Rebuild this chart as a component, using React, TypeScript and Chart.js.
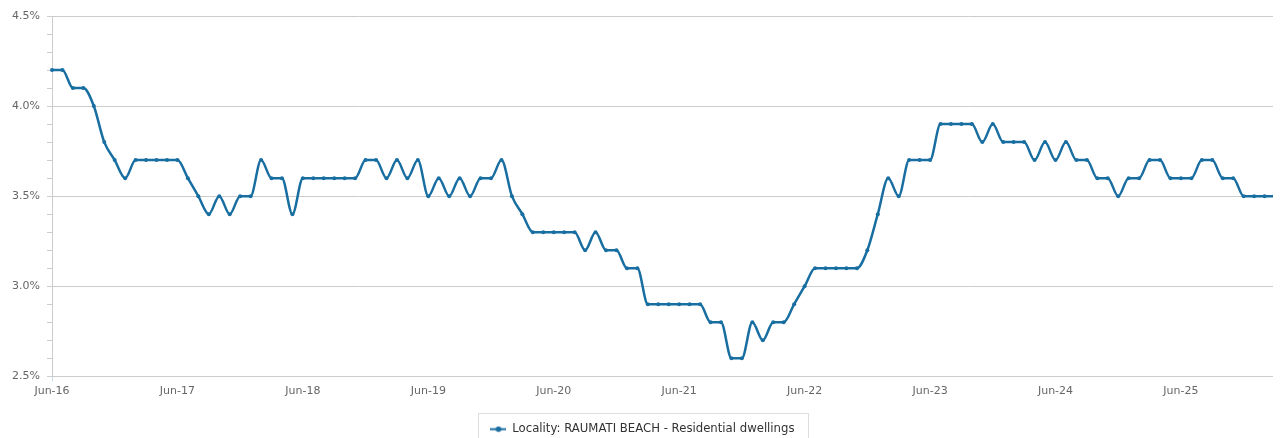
import { useEffect, useRef } from 'react';
import { Chart, registerables } from 'chart.js';

Chart.register(...registerables);

const SERIES_LABEL = 'Locality: RAUMATI BEACH - Residential dwellings';
const START_YEAR = 2016;
const START_MONTH = 5; // June (0-based)
const MONTH_NAMES = ['Jan', 'Feb', 'Mar', 'Apr', 'May', 'Jun', 'Jul', 'Aug', 'Sep', 'Oct', 'Nov', 'Dec'];

// Monthly values (%), Jun-16 .. Mar-26
const values = [
  4.2, 4.2, 4.1, 4.1, 4.0, 3.8, 3.7, 3.6, 3.7, 3.7,
  3.7, 3.7, 3.7, 3.6, 3.5, 3.4, 3.5, 3.4, 3.5, 3.5,
  3.7, 3.6, 3.6, 3.4, 3.6, 3.6, 3.6, 3.6, 3.6, 3.6,
  3.7, 3.7, 3.6, 3.7, 3.6, 3.7, 3.5, 3.6, 3.5, 3.6,
  3.5, 3.6, 3.6, 3.7, 3.5, 3.4, 3.3, 3.3, 3.3, 3.3,
  3.3, 3.2, 3.3, 3.2, 3.2, 3.1, 3.1, 2.9, 2.9, 2.9,
  2.9, 2.9, 2.9, 2.8, 2.8, 2.6, 2.6, 2.8, 2.7, 2.8,
  2.8, 2.9, 3.0, 3.1, 3.1, 3.1, 3.1, 3.1, 3.2, 3.4,
  3.6, 3.5, 3.7, 3.7, 3.7, 3.9, 3.9, 3.9, 3.9, 3.8,
  3.9, 3.8, 3.8, 3.8, 3.7, 3.8, 3.7, 3.8, 3.7, 3.7,
  3.6, 3.6, 3.5, 3.6, 3.6, 3.7, 3.7, 3.6, 3.6, 3.6,
  3.7, 3.7, 3.6, 3.6, 3.5, 3.5, 3.5, 3.5,
];

const categories = values.map((_, i) => {
  const m = START_MONTH + i;
  const y = START_YEAR + Math.floor(m / 12);
  return `${MONTH_NAMES[m % 12]}-${String(y % 100).padStart(2, '0')}`;
});

const Y_MIN = 2.5;
const Y_MAX = 4.5;
const Y_STEP = 0.1;
const Y_LABEL_STEP = 0.5;
const X_LABEL_EVERY = 12;

const LINE_COLOR = '#186ea0';
const FONT_FAMILY = '"DejaVu Sans", sans-serif';

const CANVAS_W = 1269;
const CANVAS_H = 440;

const isMajor = (v: number) => {
  const r = v / Y_LABEL_STEP;
  return Math.abs(r - Math.round(r)) < 1e-6;
};

const legendBorderPlugin = {
  id: 'legendBorder',
  afterDraw(chart: any) {
    const lg = chart.legend;
    if (!lg || !lg.legendHitBoxes || !lg.legendHitBoxes.length) return;
    const hb = lg.legendHitBoxes[0];
    const ctx = chart.ctx;
    const cy = hb.top + hb.height / 2;
    const x0 = Math.round(hb.left - 12) + 0.5;
    const x1 = Math.round(hb.left + hb.width + 13) + 0.5;
    const y0 = Math.round(cy - 16) + 0.5;
    const y1 = Math.round(cy + 18) + 0.5;
    ctx.save();
    ctx.strokeStyle = '#dddddd';
    ctx.lineWidth = 1;
    ctx.strokeRect(x0, y0, x1 - x0, y1 - y0);
    ctx.restore();
  },
};

export default function App() {
  const canvasRef = useRef<HTMLCanvasElement | null>(null);

  useEffect(() => {
    const canvas = canvasRef.current;
    if (!canvas) return;

    const icon = document.createElement('canvas');
    icon.width = 16;
    icon.height = 7;
    const ic = icon.getContext('2d');
    if (ic) {
      ic.strokeStyle = LINE_COLOR;
      ic.lineWidth = 2;
      ic.beginPath();
      ic.moveTo(0, 3.5);
      ic.lineTo(16, 3.5);
      ic.stroke();
      ic.fillStyle = LINE_COLOR;
      ic.beginPath();
      ic.arc(8, 3.5, 2.8, 0, Math.PI * 2);
      ic.fill();
    }

    const font = { family: FONT_FAMILY, size: 11 };
    const legendFont = { family: FONT_FAMILY, size: 11.7 };

    const chart = new Chart(canvas, {
      type: 'line',
      data: {
        labels: categories,
        datasets: [
          {
            label: SERIES_LABEL,
            data: values,
            borderColor: LINE_COLOR,
            backgroundColor: LINE_COLOR,
            borderWidth: 2.5,
            pointRadius: 2,
            pointHoverRadius: 2,
            pointBackgroundColor: LINE_COLOR,
            pointBorderWidth: 0,
            cubicInterpolationMode: 'monotone',
            tension: 0.4,
            fill: false,
            clip: false as any,
          },
        ],
      },
      options: {
        responsive: false,
        animation: false,
        events: [],
        layout: { padding: { top: 8, left: 0, right: 0, bottom: 3 } },
        scales: {
          x: {
            type: 'category',
            offset: false,
            grid: {
              drawOnChartArea: false,
              drawTicks: true,
              tickLength: 5,
              color: 'transparent',
              tickColor: (ctx: any) => (ctx.index % X_LABEL_EVERY === 0 ? '#ccd6eb' : 'transparent'),
            },
            border: { display: true, color: '#cccccc' },
            ticks: {
              autoSkip: false,
              maxRotation: 0,
              minRotation: 0,
              padding: 3,
              color: '#666666',
              font,
              callback: (_v: any, i: number) => (i % X_LABEL_EVERY === 0 ? categories[i] : null),
            },
            afterFit: (s: any) => {
              s.height = 28;
              s.paddingLeft = 0;
              s.paddingRight = 0;
            },
          },
          y: {
            min: Y_MIN,
            max: Y_MAX,
            ticks: {
              stepSize: Y_STEP,
              autoSkip: false,
              padding: 7,
              color: '#666666',
              font,
              callback: (v: any) => (isMajor(Number(v)) ? Number(v).toFixed(1) + '%' : ''),
            },
            grid: {
              color: (ctx: any) => (ctx.tick && isMajor(ctx.tick.value) ? '#cccccc' : 'transparent'),
              tickColor: '#cccccc',
              tickLength: 5,
            },
            border: { display: true, color: '#cccccc' },
            afterFit: (s: any) => {
              s.width = 44;
              s.paddingTop = 0;
              s.paddingBottom = 0;
            },
          },
        },
        plugins: {
          legend: {
            display: true,
            position: 'bottom',
            labels: {
              usePointStyle: true,
              pointStyleWidth: 16,
              padding: 19,
              color: '#333333',
              font: legendFont,
              generateLabels: () => [
                {
                  text: SERIES_LABEL,
                  pointStyle: icon as any,
                  fontColor: '#333333',
                  fillStyle: LINE_COLOR,
                  strokeStyle: 'transparent',
                  lineWidth: 0,
                  hidden: false,
                  datasetIndex: 0,
                } as any,
              ],
            },
          },
          tooltip: { enabled: false },
        },
      } as any,
      plugins: [legendBorderPlugin],
    });

    return () => {
      chart.destroy();
    };
  }, []);

  return (
    <div style={{ width: 1265, height: CANVAS_H }}>
      <canvas
        ref={canvasRef}
        width={CANVAS_W}
        height={CANVAS_H}
        style={{ display: 'block', width: CANVAS_W, height: CANVAS_H }}
      />
    </div>
  );
}
